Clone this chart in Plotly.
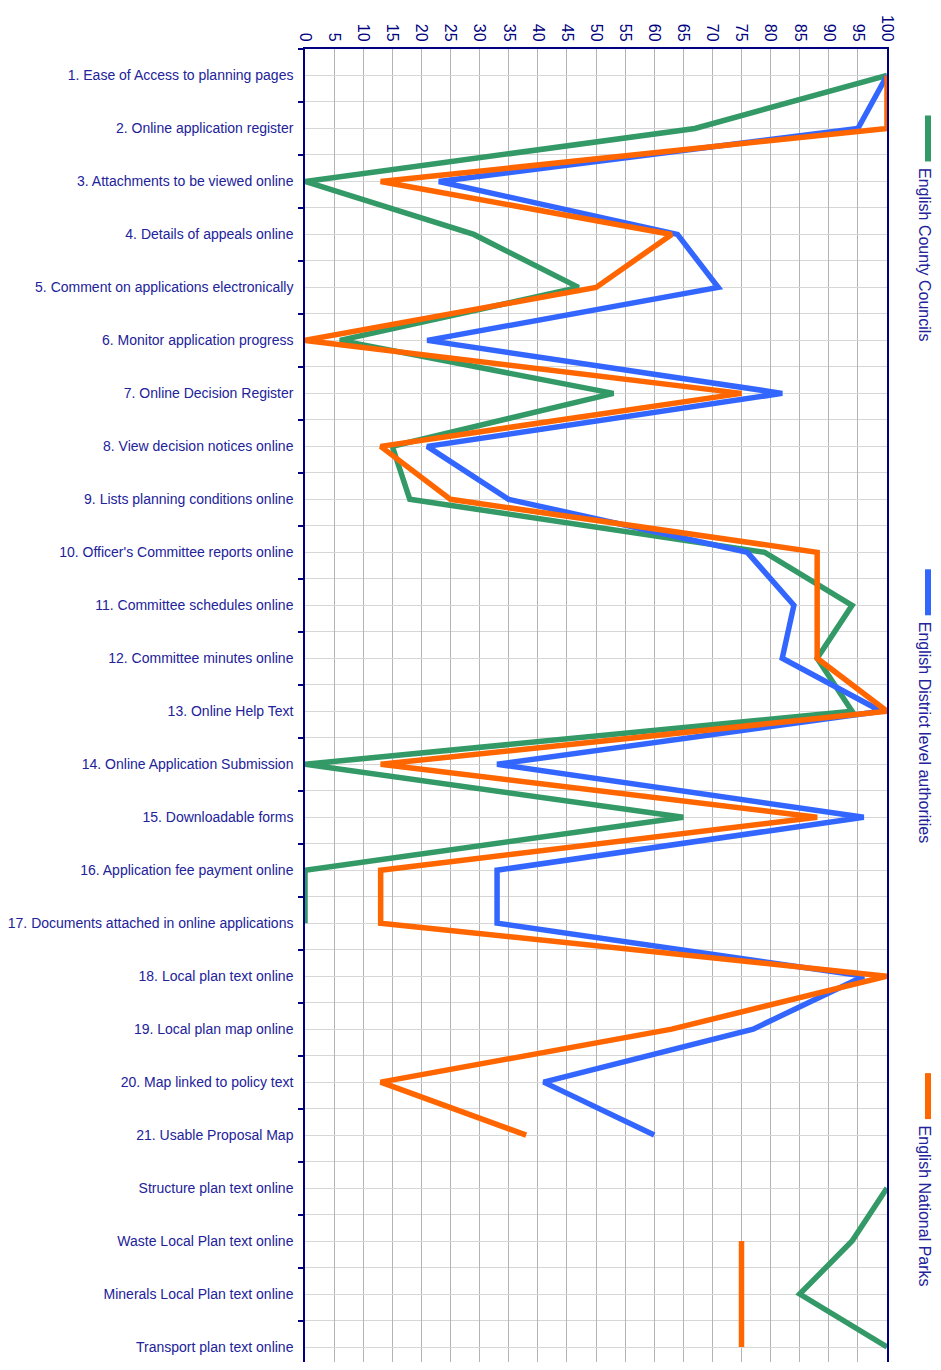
import plotly.graph_objects as go

categories = [
    "1. Ease of Access to planning pages",
    "2. Online application register",
    "3. Attachments to be viewed online",
    "4. Details of appeals online",
    "5. Comment on applications electronically",
    "6. Monitor application progress",
    "7. Online Decision Register",
    "8. View decision notices online",
    "9. Lists planning conditions online",
    "10. Officer's Committee reports online",
    "11. Committee schedules online",
    "12. Committee minutes online",
    "13. Online Help Text",
    "14. Online Application Submission",
    "15. Downloadable forms",
    "16. Application fee payment online",
    "17. Documents attached in online applications",
    "18. Local plan text online",
    "19. Local plan map online",
    "20. Map linked to policy text",
    "21. Usable Proposal Map",
    "Structure plan text online",
    "Waste Local Plan text online",
    "Minerals Local Plan text online",
    "Transport plan text online",
]

county = [100, 67, 0, 29, 47, 6, 53, 15, 18, 79, 94, 88, 94, 0, 65, 0, 0,
          None, None, None, None, 100, 94, 85, 100]
district = [100, 95, 23, 64, 71, 21, 82, 21, 35, 76, 84, 82, 99, 33, 96, 33, 33,
            96, 77, 41, 60, None, None, None, None]
parks = [100, 100, 13, 63, 50, 0, 75, 13, 25, 88, 88, 88, 100, 13, 88, 13, 13,
         100, 63, 13, 38, None, 75, 75, 75]

series_names = ["English County Councils", "English District level authorities", "English National Parks"]
series_values = [county, district, parks]
series_colors = ["#339966", "#3366ff", "#ff6600"]

positions = list(range(len(categories)))

NAVY = "#000080"
LABEL = "#22229a"

fig = go.Figure()
for name, vals, col in zip(series_names, series_values, series_colors):
    fig.add_trace(go.Scatter(
        x=vals, y=positions, mode="lines", name=name,
        line=dict(color=col, width=5.5), connectgaps=False,
        showlegend=False, text=categories,
    ))

OFF = 8  # page body margin
W, H = 925, 1354
ml, mr, mt, mb = 297, 46, 40.5, 0
pw = W - ml - mr
ph = H - mt - mb
row0, rowstep = 75, 53
ybottom = (OFF + H - row0) / rowstep


def px(xp):
    return (xp - OFF - ml) / pw


def py(yp):
    return (H - mb - (yp - OFF)) / ph


fig.update_layout(
    width=W, height=H,
    margin=dict(l=ml, r=mr, t=mt, b=mb, pad=0, autoexpand=False),
    paper_bgcolor="white", plot_bgcolor="white",
    font=dict(family="Liberation Sans, Arial, sans-serif", color=NAVY),
    xaxis=dict(
        side="top", range=[0, 100], dtick=5, tick0=0,
        tickangle=90, tickfont=dict(size=16, color=NAVY),
        showgrid=True, gridcolor="#b4b4b4", gridwidth=1,
        showline=True, linecolor=NAVY, linewidth=1.5,
        ticks="", zeroline=False, fixedrange=True, automargin=False,
    ),
    yaxis=dict(
        range=[ybottom, -0.5], tickmode="array", tickvals=positions, ticktext=categories,
        tickfont=dict(family="Liberation Sans, Arial, sans-serif", size=14, color=LABEL),
        ticks="outside", ticklen=0, ticklabelstandoff=7,
        showgrid=True, gridcolor="#d6d6d6", gridwidth=1,
        showline=True, linecolor=NAVY, linewidth=1.5, mirror=True,
        zeroline=False, automargin=False,
        minor=dict(tickmode="array", tickvals=[i + 0.5 for i in range(-1, len(categories))],
                   ticks="outside", ticklen=5, tickcolor=NAVY, tickwidth=1.5,
                   showgrid=True, gridcolor="#d6d6d6", gridwidth=1),
    ),
)

# legend (rotated, on the right side)
legend_items = [
    (series_names[0], series_colors[0], 115, 161, 165),
    (series_names[1], series_colors[1], 569, 615, 619),
    (series_names[2], series_colors[2], 1073, 1119, 1123),
]
for name, col, s0, s1, t0 in legend_items:
    fig.add_shape(type="line", xref="paper", yref="paper",
                  x0=px(928), x1=px(928), y0=py(s0), y1=py(s1),
                  line=dict(color=col, width=6))
    fig.add_annotation(text=name, xref="paper", yref="paper",
                       x=px(924), y=py(t0), xanchor="center", yanchor="top",
                       textangle=90, showarrow=False,
                       font=dict(family="Liberation Sans, Arial, sans-serif", size=16, color=LABEL))

fig.write_html("out.html")
